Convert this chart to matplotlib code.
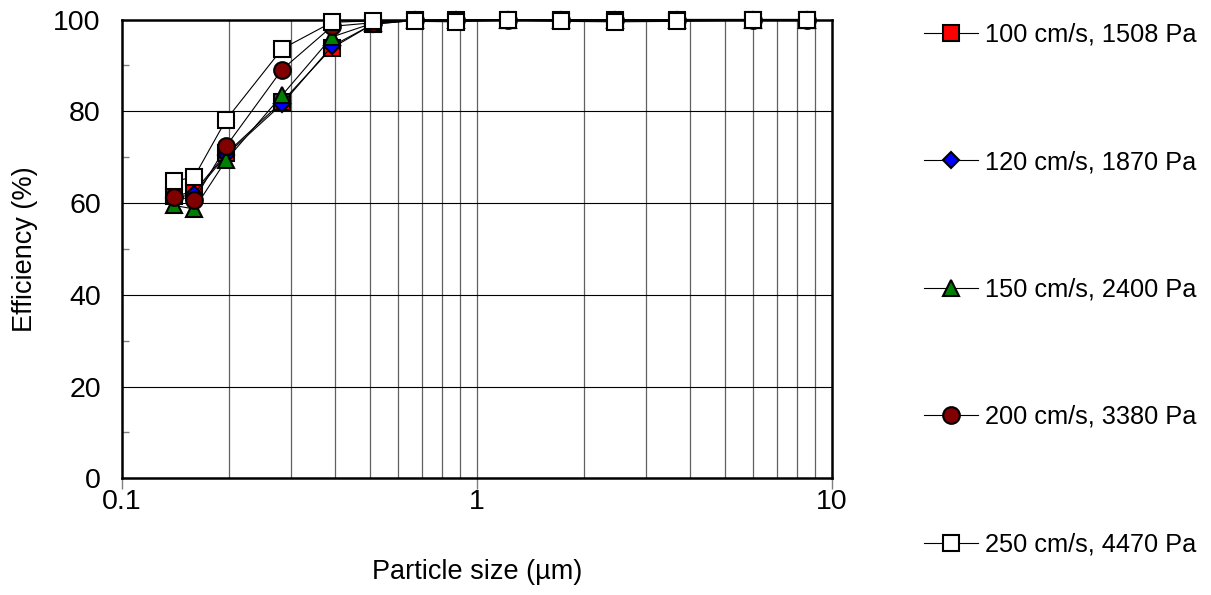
import matplotlib
matplotlib.use("Agg")
import matplotlib.pyplot as plt
from matplotlib.ticker import FixedLocator, NullFormatter

plt.rcParams['font.family'] = ['Liberation Sans', 'DejaVu Sans']

sizes = [0.14, 0.16, 0.197, 0.283, 0.391, 0.51, 0.67, 0.874, 1.225, 1.725, 2.45, 3.66, 6.0, 8.5]

labels = ["100 cm/s, 1508 Pa", "120 cm/s, 1870 Pa", "150 cm/s, 2400 Pa",
          "200 cm/s, 3380 Pa", "250 cm/s, 4470 Pa"]

eff_100 = [61.5, 62.5, 70.8, 82.1, 93.8, 99.0, 99.8, 99.9, 100.0, 99.9, 99.9, 100.0, 100.0, 100.0]
eff_120 = [61.0, 62.0, 70.5, 81.6, 94.2, 99.0, 99.8, 99.9, 100.0, 99.9, 99.9, 100.0, 100.0, 100.0]
eff_150 = [59.5, 58.7, 69.4, 83.5, 96.2, 99.2, 99.8, 99.9, 100.0, 99.9, 99.9, 100.0, 100.0, 100.0]
eff_200 = [61.4, 60.7, 72.4, 89.1, 98.5, 99.3, 99.9, 99.9, 100.0, 99.9, 99.9, 100.0, 100.0, 100.0]
eff_250 = [64.7, 65.7, 78.2, 93.6, 99.4, 99.7, 99.6, 99.5, 99.9, 99.6, 99.5, 99.6, 99.9, 99.8]

series = [eff_100, eff_120, eff_150, eff_200, eff_250]
styles = [
    dict(marker='s', mfc='#ff0000', ms=11.5),
    dict(marker='D', mfc='#0000ff', ms=8.5),
    dict(marker='^', mfc='#008000', ms=12),
    dict(marker='o', mfc='#800000', ms=12),
    dict(marker='s', mfc='#ffffff', ms=11.5),
]

fig = plt.figure(figsize=(12.11, 5.95), dpi=100)
ax = fig.add_axes([0.1005, 0.1961, 0.5863, 0.7711])

handles = []
for vals, lab, st in zip(series, labels, styles):
    h, = ax.plot(sizes, vals, color='black', lw=0.8, marker=st['marker'],
                 markersize=st['ms'], markerfacecolor=st['mfc'],
                 markeredgecolor='black', markeredgewidth=1.5, label=lab,
                 clip_on=False, zorder=3)
    handles.append(h)

ax.set_xscale('log')
ax.set_xlim(0.1, 10)
ax.set_ylim(0, 100)

ax.xaxis.set_major_locator(FixedLocator([0.1, 1, 10]))
ax.set_xticklabels(['0.1', '1', '10'])
minor_x = [m * d for d in (0.1, 1) for m in range(2, 10)]
ax.xaxis.set_minor_locator(FixedLocator(minor_x))
ax.xaxis.set_minor_formatter(NullFormatter())

ax.set_yticks([0, 20, 40, 60, 80, 100])
ax.yaxis.set_minor_locator(FixedLocator([10, 30, 50, 70, 90]))

# grid
for xv in minor_x + [1]:
    ax.axvline(xv, color='#606060', lw=0.9, zorder=1)
for yv in [20, 40, 60, 80]:
    ax.axhline(yv, color='black', lw=0.8, zorder=1)

ax.tick_params(axis='x', which='major', direction='out', length=8, width=1,
               color='#808080', labelsize=20.5, pad=0)
ax.tick_params(axis='x', which='minor', length=0)
ax.tick_params(axis='y', which='major', length=0, labelsize=20.5, pad=15)
ax.tick_params(axis='y', which='minor', direction='in', length=5, width=1, color='#808080')

for sp in ax.spines.values():
    sp.set_linewidth(1.8)
    sp.set_color('black')

ax.set_xlabel('Particle size (µm)', fontsize=19.5, labelpad=31.5)
ax.set_ylabel('Efficiency (%)', fontsize=19.5, labelpad=11)

fig.legend(handles=handles, labels=labels, loc='upper left',
           bbox_to_anchor=(0.755, 0.979), frameon=False, fontsize=18.3,
           handlelength=2.1, handletextpad=0.3, labelspacing=4.07,
           borderaxespad=0)

fig.savefig('out.png', dpi=100)
